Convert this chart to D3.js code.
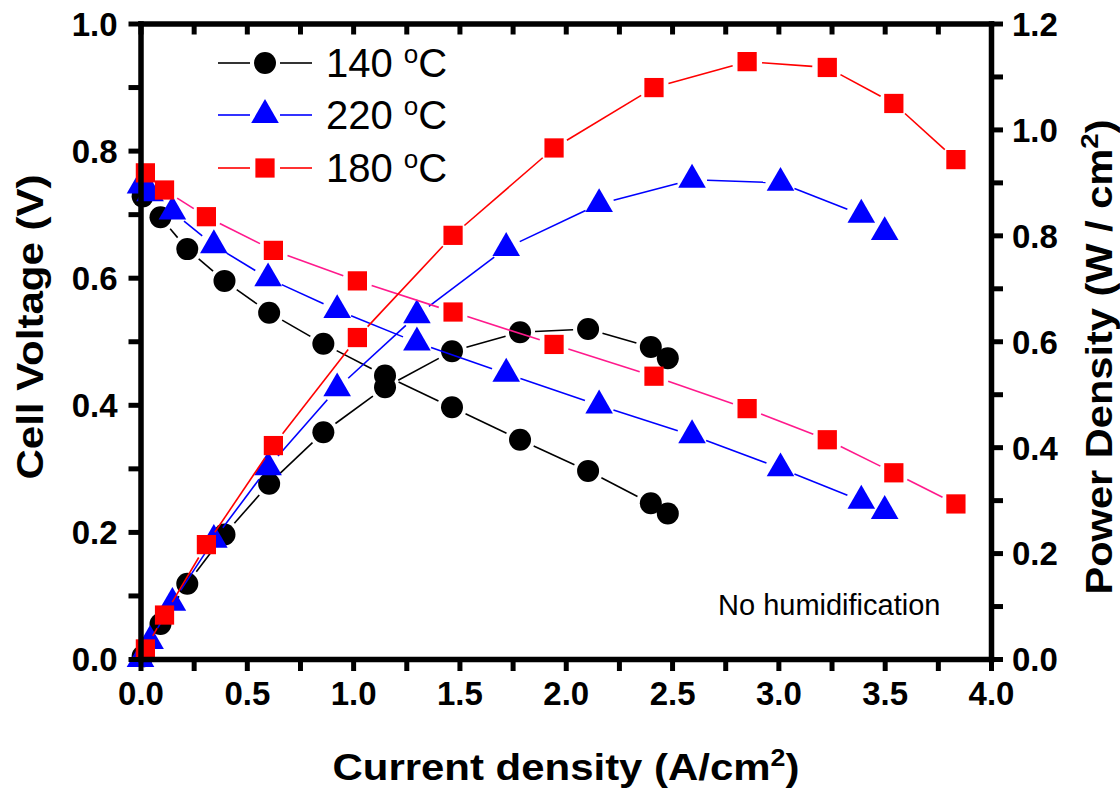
<!DOCTYPE html>
<html>
<head>
<meta charset="utf-8">
<script src="https://cdn.jsdelivr.net/npm/d3@7"></script>
<style>
  body { margin: 0; background: #fff; }
  svg text { font-family: "Liberation Sans", Arial, sans-serif; }
</style>
</head>
<body>
<svg class="chart" width="1120" height="789"></svg>
<script>
var width = 1120, height = 789;

// data
var cur140 = [0.01, 0.094, 0.22, 0.395, 0.605, 0.86, 1.15, 1.465, 1.785, 2.105, 2.40, 2.48];
var volt140 = [0.728, 0.695, 0.645, 0.595, 0.545, 0.496, 0.446, 0.396, 0.345, 0.296, 0.245, 0.229];
var pow140 = [0.005, 0.066, 0.142, 0.235, 0.331, 0.428, 0.513, 0.581, 0.617, 0.623, 0.589, 0.568];

var cur220 = [0, 0.045, 0.15, 0.345, 0.60, 0.925, 1.30, 1.72, 2.157, 2.594, 3.01, 3.39, 3.50];
var volt220 = [0.745, 0.733, 0.704, 0.651, 0.599, 0.549, 0.498, 0.449, 0.399, 0.352, 0.30, 0.249, 0.233];
var pow220 = [0, 0.034, 0.106, 0.225, 0.362, 0.511, 0.649, 0.776, 0.859, 0.905, 0.899, 0.839, 0.806];

var cur180 = [0.023, 0.113, 0.31, 0.625, 1.02, 1.47, 1.945, 2.415, 2.853, 3.23, 3.543, 3.835];
var volt180 = [0.765, 0.738, 0.696, 0.643, 0.595, 0.546, 0.495, 0.445, 0.394, 0.345, 0.293, 0.244];
var pow180 = [0.019, 0.083, 0.216, 0.403, 0.607, 0.80, 0.965, 1.079, 1.128, 1.117, 1.049, 0.943];

var xTicks = [0, 0.5, 1.0, 1.5, 2.0, 2.5, 3.0, 3.5, 4.0];
var leftTicks = [0, 0.2, 0.4, 0.6, 0.8, 1.0];
var rightTicks = [0, 0.2, 0.4, 0.6, 0.8, 1.0, 1.2];

var series = [
    {name: "140", cur: cur140, volt: volt140, pow: pow140, color: "#000", vColor: "#000", shape: d3.symbolCircle, size: 380},
    {name: "220", cur: cur220, volt: volt220, pow: pow220, color: "#0000ff", vColor: "#0000ff", shape: d3.symbolTriangle, size: 330},
    {name: "180", cur: cur180, volt: volt180, pow: pow180, color: "#ff0000", vColor: "#ff1a8c", shape: d3.symbolSquare, size: 370}
];

var x = d3.scaleLinear().domain([0, 4]).range([140.5, 991]);
var yL = d3.scaleLinear().domain([0, 1]).range([659, 23.5]);
var yR = d3.scaleLinear().domain([0, 1.2]).range([659, 23.5]);

const svg = d3.select('.chart');

// segments with a small gap around each marker, like Origin draws them
function gapLines(g, pts, color) {
    var gap = 15;
    for (var i = 1; i < pts.length; i++) {
        var a = pts[i - 1], b = pts[i];
        var dx = b[0] - a[0], dy = b[1] - a[1], len = Math.sqrt(dx * dx + dy * dy);
        if (len <= 2 * gap) continue;
        var ux = dx / len, uy = dy / len;
        g.append("line")
            .attr("x1", a[0] + ux * gap).attr("y1", a[1] + uy * gap)
            .attr("x2", b[0] - ux * gap).attr("y2", b[1] - uy * gap)
            .attr("stroke", color).attr("stroke-width", 1.6);
    }
}

const plot = svg.append("g");
series.forEach(function(s) {
    var vp = s.cur.map((c, i) => [x(c), yL(s.volt[i])]);
    var pp = s.cur.map((c, i) => [x(c), yR(s.pow[i])]);
    var g = plot.append("g");
    gapLines(g, vp, s.vColor);
    gapLines(g, pp, s.color);
    g.selectAll("path.m")
        .data(vp.concat(pp))
        .join("path")
            .attr("class", "m")
            .attr("d", d3.symbol().type(s.shape).size(s.size))
            .attr("transform", d => `translate(${d[0]},${d[1]})`)
            .attr("fill", s.color);
});

// axes
function styleAxis(g) {
    g.select(".domain").attr("stroke-width", 5.5).attr("stroke-linecap", "square");
    g.selectAll(".tick line").attr("stroke-width", 5);
    g.selectAll(".tick text")
        .attr("font-size", 33).attr("font-weight", "bold").attr("fill", "#000");
}

var minorX = d3.range(0, 4.001, 0.25);

svg.append("g")
    .attr("transform", "translate(0,659)")
    .call(d3.axisBottom(x).tickValues(minorX).tickSizeInner(12).tickSizeOuter(0)
        .tickFormat(d => xTicks.indexOf(d) >= 0 ? d3.format(".1f")(d) : ""))
    .call(styleAxis)
    .call(g => g.selectAll(".tick text").attr("y", 23));

svg.append("g")
    .attr("transform", "translate(0,23.5)")
    .call(d3.axisTop(x).tickValues(minorX).tickSizeInner(-11).tickSizeOuter(0).tickFormat(""))
    .call(styleAxis);

svg.append("g")
    .attr("transform", "translate(140.5,0)")
    .call(d3.axisLeft(yL).tickValues(d3.range(0, 1.001, 0.1)).tickSizeInner(12).tickSizeOuter(0)
        .tickFormat(d => leftTicks.some(t => Math.abs(t - d) < 1e-6) ? d3.format(".1f")(d) : ""))
    .call(styleAxis)
    .call(g => g.selectAll(".tick text").attr("x", -23).attr("dy", "0.36em"));

svg.append("g")
    .attr("transform", "translate(991,0)")
    .call(d3.axisRight(yR).tickValues(d3.range(0, 1.201, 0.1)).tickSizeInner(12).tickSizeOuter(0)
        .tickFormat(d => rightTicks.some(t => Math.abs(t - d) < 1e-6) ? d3.format(".1f")(d) : ""))
    .call(styleAxis)
    .call(g => g.selectAll(".tick text").attr("x", 21).attr("dy", "0.36em"));

// axis titles
var xt = svg.append("text")
    .attr("x", 566).attr("y", 780)
    .attr("text-anchor", "middle")
    .attr("font-size", 36).attr("font-weight", "bold")
    .attr("textLength", 467).attr("lengthAdjust", "spacingAndGlyphs");
xt.append("tspan").text("Current density (A/cm");
xt.append("tspan").attr("font-size", 23).attr("dy", -14).text("2");
xt.append("tspan").attr("dy", 14).text(")");

svg.append("text")
    .attr("transform", "translate(43,327) rotate(-90)")
    .attr("text-anchor", "middle")
    .attr("font-size", 36).attr("font-weight", "bold")
    .attr("textLength", 305).attr("lengthAdjust", "spacingAndGlyphs")
    .text("Cell Voltage (V)");

var rt = svg.append("text")
    .attr("transform", "translate(1112,357) rotate(-90)")
    .attr("text-anchor", "middle")
    .attr("font-size", 36).attr("font-weight", "bold")
    .attr("textLength", 475).attr("lengthAdjust", "spacingAndGlyphs");
rt.append("tspan").text("Power Density (W / cm");
rt.append("tspan").attr("font-size", 24).attr("dy", -14).text("2");
rt.append("tspan").attr("dy", 14).text(")");

// legend
var legendRows = [series[0], series[1], series[2]];
var legendY = [63, 115, 168];
legendRows.forEach(function(s, i) {
    var ly = legendY[i];
    var g = svg.append("g");
    g.append("line").attr("x1", 218).attr("x2", 250).attr("y1", ly).attr("y2", ly)
        .attr("stroke", s.color).attr("stroke-width", 1.6);
    g.append("line").attr("x1", 280).attr("x2", 312).attr("y1", ly).attr("y2", ly)
        .attr("stroke", s.color).attr("stroke-width", 1.6);
    g.append("path")
        .attr("d", d3.symbol().type(s.shape).size(s.size))
        .attr("transform", `translate(265,${ly})`)
        .attr("fill", s.color);
    var t = g.append("text").attr("x", 326).attr("y", ly + 14).attr("font-size", 40);
    t.append("tspan").text(s.name + " ");
    t.append("tspan").attr("font-size", 26).attr("dy", -14).text("o");
    t.append("tspan").attr("dy", 14).text("C");
});

svg.append("text")
    .attr("x", 718).attr("y", 615)
    .attr("font-size", 29)
    .text("No humidification");
</script>
</body>
</html>
